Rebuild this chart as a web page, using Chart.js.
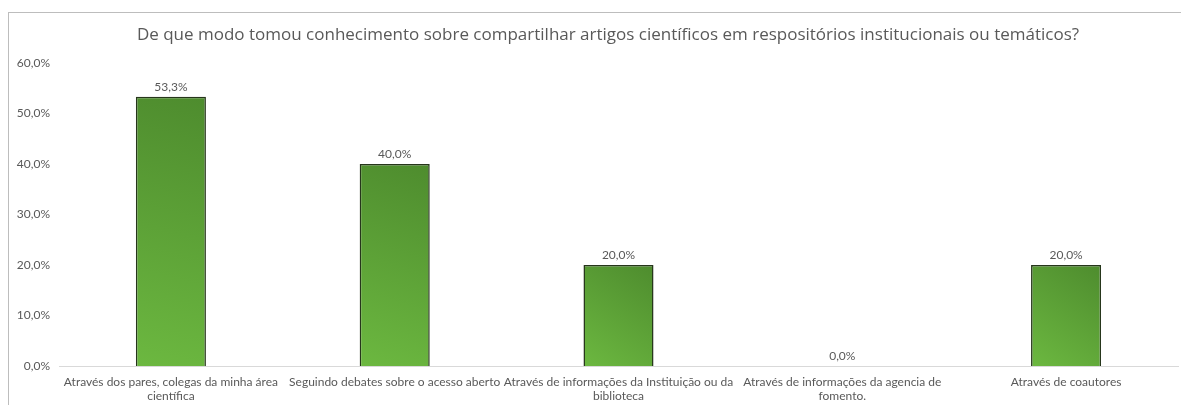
<!DOCTYPE html>
<html><head><meta charset="utf-8">
<script src="https://cdn.jsdelivr.net/npm/chart.js@4/dist/chart.umd.min.js"></script>
<style>html,body{margin:0;padding:0;background:#fff;}#wrap{width:1181px;height:405px;position:relative;}</style>
</head><body><div id="wrap"><canvas id="c" width="1181" height="405"></canvas></div>
<script>
const titleText = "De que modo tomou conhecimento sobre compartilhar artigos científicos em respositórios institucionais ou temáticos?";
const categories = [
  ["Através dos pares, colegas da minha área", "científica"],
  ["Seguindo debates sobre o acesso aberto"],
  ["Através de informações da Instituição ou da", "biblioteca"],
  ["Através de informações da agencia de", "fomento."],
  ["Através de coautores"]
];
const values = [53.3, 40.0, 20.0, 0.0, 20.0];
const yTicks = [0, 10, 20, 30, 40, 50, 60];

const FONT = "Lato, 'Open Sans', sans-serif";
const TFONT = "'Open Sans', Lato, sans-serif";
const fmt = v => v.toFixed(1).replace('.', ',') + '%';

const framePlugin = {
  id: 'frame',
  beforeDraw(chart) {
    const ctx = chart.ctx;
    ctx.save();
    ctx.strokeStyle = '#bdbdbd';
    ctx.lineWidth = 1;
    ctx.strokeRect(8.5, 12.5, chart.width + 20, chart.height + 20);
    ctx.fillStyle = '#595959';
    ctx.font = '17px ' + TFONT;
    ctx.textAlign = 'center';
    ctx.textBaseline = 'middle';
    ctx.fillText(titleText, 608, 35);
    ctx.restore();
  }
};
const labelPlugin = {
  id: 'vlabels',
  afterDatasetsDraw(chart) {
    const ctx = chart.ctx;
    const meta = chart.getDatasetMeta(0);
    ctx.save();
    ctx.fillStyle = '#595959';
    ctx.font = '12px ' + FONT;
    ctx.textAlign = 'center';
    ctx.textBaseline = 'bottom';
    meta.data.forEach((el, i) => {
      ctx.fillText(fmt(values[i]), el.x, el.y - 4);
    });
    ctx.restore();
  }
};

new Chart(document.getElementById('c'), {
  type: 'bar',
  data: {
    labels: categories,
    datasets: [{
      data: values,
      backgroundColor(ctx) {
        const chart = ctx.chart;
        const sx = chart.scales && chart.scales.x;
        const sy = chart.scales && chart.scales.y;
        if (!sx || !sy || !chart.chartArea) return '#5a9a33';
        const cx = sx.getPixelForValue(ctx.dataIndex);
        const top = sy.getPixelForValue(values[ctx.dataIndex]);
        const bot = sy.getPixelForValue(0);
        if (!isFinite(cx) || !isFinite(top) || !isFinite(bot)) return '#5a9a33';
        const w = 70;
        const g = chart.ctx.createLinearGradient(cx - w / 2, bot, cx + w / 2, Math.min(top, bot - 60));
        g.addColorStop(0, '#6cb840');
        g.addColorStop(1, '#4e8c2e');
        return g;
      },
      borderColor: '#26361b',
      borderWidth: 1.5,
      categoryPercentage: 1,
      barPercentage: 0.313
    }]
  },
  options: {
    responsive: false,
    animation: false,
    devicePixelRatio: 1,
    layout: { padding: { left: 0, right: 3, top: 63, bottom: 0 } },
    plugins: {
      legend: { display: false },
      tooltip: { enabled: false },
      title: { display: false }
    },
    scales: {
      x: {
        afterFit(axis) { axis.height = 39; },
        grid: { display: false, drawTicks: false },
        border: { display: true, color: '#d9d9d9', width: 1 },
        ticks: { color: '#595959', font: { family: FONT, size: 12, lineHeight: 1.15 }, padding: 9, maxRotation: 0, autoSkip: false }
      },
      y: {
        min: 0, max: 60,
        afterBuildTicks(axis) { axis.ticks = yTicks.map(v => ({ value: v })); },
        afterFit(axis) { axis.width = 59; },
        grid: { display: false, drawTicks: false },
        border: { display: false },
        ticks: { color: '#595959', font: { family: FONT, size: 12 }, padding: 9, callback: v => fmt(v) }
      }
    }
  },
  plugins: [framePlugin, labelPlugin]
});
</script></body></html>
